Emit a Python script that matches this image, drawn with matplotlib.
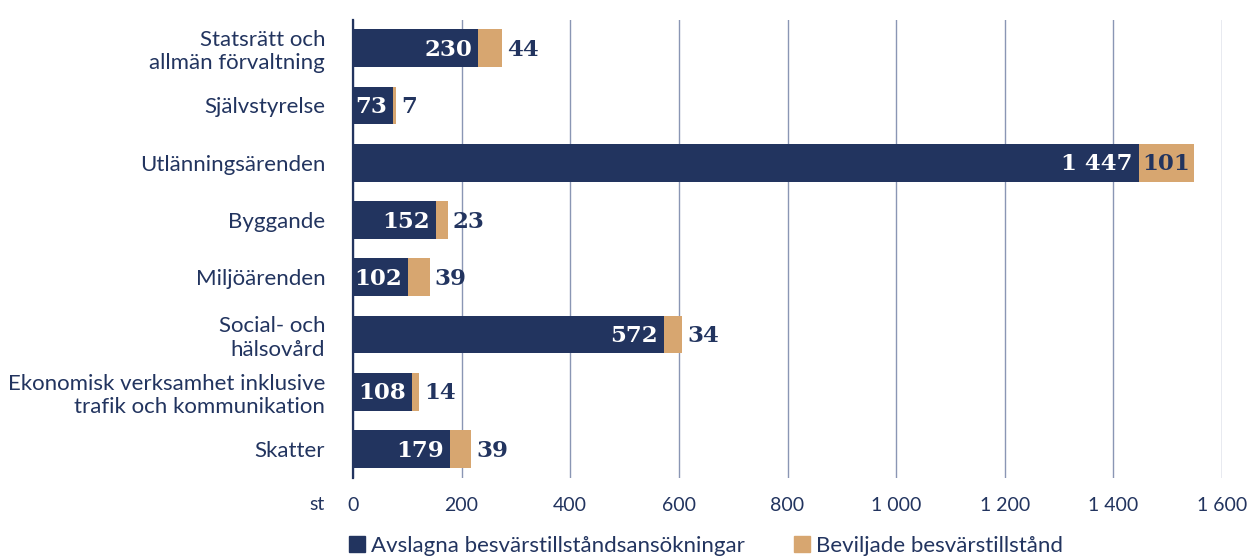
import numpy as np
import matplotlib.pyplot as plt
from matplotlib.patches import Patch

categories = ["Statsrätt och\nallmän förvaltning", "Självstyrelse", "Utlänningsärenden",
              "Byggande", "Miljöärenden", "Social- och\nhälsovård",
              "Ekonomisk verksamhet inklusive\ntrafik och kommunikation", "Skatter"]
avslagna = [230, 73, 1447, 152, 102, 572, 108, 179]
beviljade = [44, 7, 101, 23, 39, 34, 14, 39]
xticks = [0, 200, 400, 600, 800, 1000, 1200, 1400, 1600]
series_names = ["Avslagna besvärstillståndsansökningar", "Beviljade besvärstillstånd"]

navy = "#22345f"
tan = "#d7a670"
grid_c = "#8a96b4"

def fmt(v):
    return f"{v:,}".replace(",", " ")

fig = plt.figure(figsize=(12.5, 5.58), dpi=100)
ax = fig.add_axes([0.2824, 0.144, 0.6952, 0.821])

y = np.arange(len(categories))
ax.barh(y, avslagna, height=0.66, color=navy, zorder=3)
ax.barh(y, beviljade, left=avslagna, height=0.66, color=tan, zorder=3)

vfont = dict(family="DejaVu Serif", weight="bold", fontsize=16.5)
for i, (a, b) in enumerate(zip(avslagna, beviljade)):
    ax.text(a - 11, i + 0.03, fmt(a), ha="right", va="center", color="white", zorder=4, **vfont)
    if b > 60:
        ax.text(a + b / 2, i + 0.03, fmt(b), ha="center", va="center", color=navy, zorder=4, **vfont)
    else:
        ax.text(a + b + 9, i + 0.03, fmt(b), ha="left", va="center", color=navy, zorder=4, **vfont)

ax.set_xlim(0, 1600)
ax.set_ylim(len(categories) - 0.5, -0.5)
ax.set_xticks(xticks)
ax.set_xticklabels([fmt(t) for t in xticks])
ax.set_yticks(y)
ax.set_yticklabels(categories)
for lab in ax.get_yticklabels():
    lab.set_multialignment("right")

ax.grid(axis="x", color=grid_c, linewidth=1, zorder=0)
for s in ["top", "right", "bottom"]:
    ax.spines[s].set_visible(False)
ax.spines["left"].set_color(navy)
ax.spines["left"].set_linewidth(1.6)
ax.spines["left"].set_zorder(5)
ax.tick_params(axis="both", length=0, labelcolor=navy)
ax.tick_params(axis="x", pad=14, labelsize=14)
ax.tick_params(axis="y", pad=20, labelsize=16)
for lab in ax.get_xticklabels() + ax.get_yticklabels():
    lab.set_family("Lato")

fig.text(317 / 1250, 1 - 505 / 558, "st", ha="center", va="center",
         color=navy, fontsize=14, family="Lato")

handles = [Patch(color=navy), Patch(color=tan)]
fig.legend(handles, series_names, loc="center", bbox_to_anchor=(0.565, 1 - 546 / 558),
           ncol=2, frameon=False, handlelength=0.7, handleheight=0.7,
           handletextpad=0.3, columnspacing=2.2, labelcolor=navy, prop={"family": "Lato", "size": 16})

fig.savefig("out.png", dpi=100)
